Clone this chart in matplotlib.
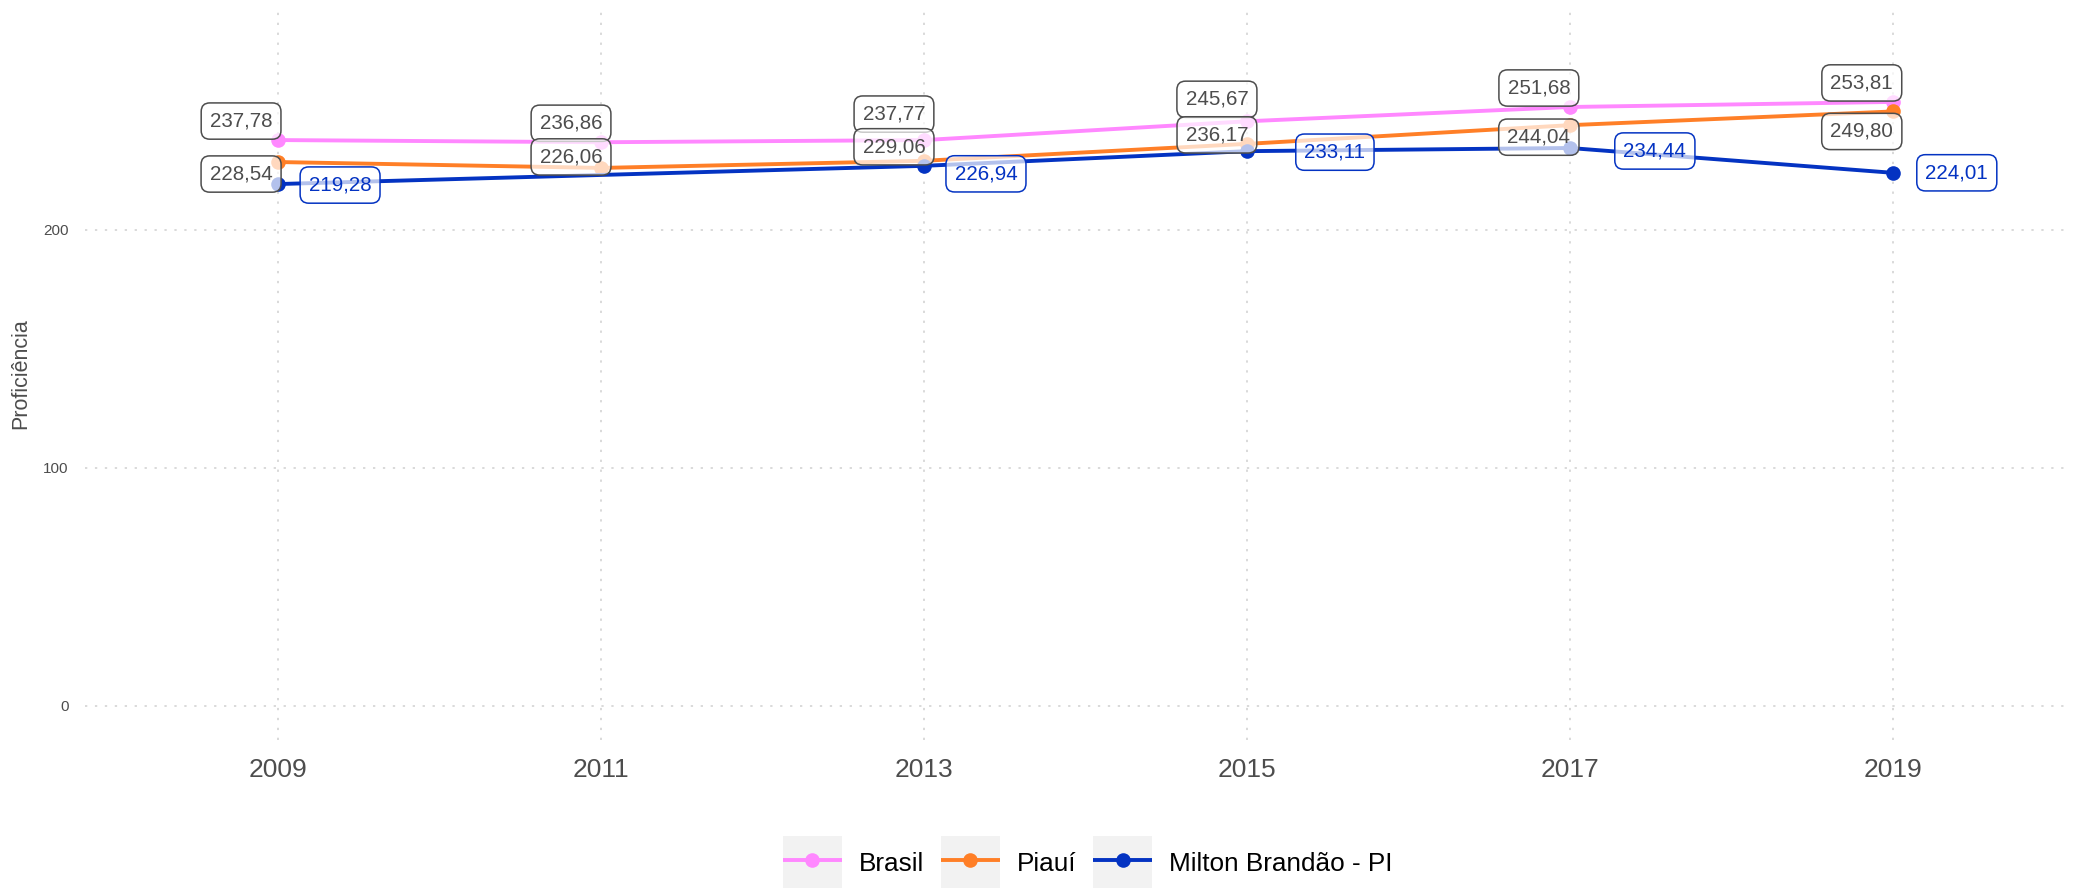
import matplotlib
matplotlib.use("Agg")
import matplotlib.pyplot as plt
import numpy as np
from matplotlib.patches import Rectangle
from matplotlib.legend_handler import HandlerLine2D

# data
anos = [2009, 2011, 2013, 2015, 2017, 2019]
brasil = [237.78, 236.86, 237.77, 245.67, 251.68, 253.81]
piaui = [228.54, 226.06, 229.06, 236.17, 244.04, 249.80]
milton_anos = [2009, 2013, 2015, 2017, 2019]
milton = [219.28, 226.94, 233.11, 234.44, 224.01]

series_nomes = ["Brasil", "Piauí", "Milton Brandão - PI"]
cores = ["#ff88ff", "#ff7f27", "#0433c2"]
y_ticks = [0, 100, 200]

# label offsets (pixels) - like ggrepel placed them
off_brasil = [(-37, 19), (-30, 19), (-30, 26), (-30, 22), (-31, 19), (-31, 19)]
off_piaui = [(-37, -12), (-30, 11), (-30, 14), (-30, 9), (-31, -12), (-31, -20)]
off_milton = [(62, -1), (62, -8), (88, -1), (85, -3), (64, 0)]

FONTE = "Liberation Sans"
CINZA = "#4d4d4d"

fig = plt.figure(figsize=(20.76, 8.90), dpi=100)
ax = fig.add_axes([0.041, 0.169, 0.956, 0.822])

x_sets = [anos, anos, milton_anos]
y_sets = [brasil, piaui, milton]
handles = []
for xs, ys, nome, cor in zip(x_sets, y_sets, series_nomes, cores):
    h, = ax.plot(xs, ys, color=cor, lw=2.8, marker="o", markersize=10.5,
                 markeredgewidth=0, label=nome, zorder=3, solid_capstyle="butt")
    handles.append(h)


def fmt(v):
    return f"{v:.2f}".replace(".", ",")


def rotulo(x, y, off, cor):
    ax.annotate(fmt(y), (x, y), xytext=off, textcoords="offset pixels",
                ha="center", va="center", fontsize=14.8, family=FONTE, color=cor,
                zorder=5,
                bbox=dict(boxstyle="round,pad=0.42,rounding_size=0.42",
                          fc=(1, 1, 1, 0.7), ec=cor, lw=1.1))


for x, y, o in zip(anos, brasil, off_brasil):
    rotulo(x, y, o, CINZA)
for x, y, o in zip(anos, piaui, off_piaui):
    rotulo(x, y, o, CINZA)
for x, y, o in zip(milton_anos, milton, off_milton):
    rotulo(x, y, o, cores[2])

ax.set_xlim(2007.805, 2020.096)
ax.set_ylim(-14.3, 293.3)
ax.set_xticks(anos)
ax.set_yticks(y_ticks)
ax.tick_params(axis="x", length=0, pad=13, labelsize=19, labelcolor=CINZA)
ax.tick_params(axis="y", length=0, pad=12, labelsize=11, labelcolor=CINZA)
for lab in ax.get_xticklabels() + ax.get_yticklabels():
    lab.set_family(FONTE)
for s in ax.spines.values():
    s.set_visible(False)
ax.grid(True, color="#d0d0d0", lw=1.1, linestyle=(0, (1.5, 5)))
ax.set_axisbelow(True)

ax.set_ylabel("Proficiência", fontsize=15.5, family=FONTE, color=CINZA)
ax.yaxis.set_label_coords(-0.0272, 0.5)


class KeyBox(HandlerLine2D):
    def create_artists(self, legend, orig_handle, xdescent, ydescent,
                       width, height, fontsize, trans):
        fundo = Rectangle((-xdescent, -ydescent - 0.415 * height), width, height * 1.83,
                          facecolor="#f2f2f2", edgecolor="none", transform=trans)
        arts = super().create_artists(legend, orig_handle, xdescent, ydescent,
                                      width, height, fontsize, trans)
        return [fundo] + arts


leg = fig.legend(handles=handles, loc="center", bbox_to_anchor=(0.524, 0.031),
                 ncol=3, frameon=False, numpoints=1,
                 prop={"family": FONTE, "size": 18.8},
                 handlelength=2.26, handleheight=1.3, handletextpad=0.65,
                 columnspacing=0.65, borderpad=0,
                 handler_map={h: KeyBox() for h in handles})

fig.savefig("out.png", dpi=100)
